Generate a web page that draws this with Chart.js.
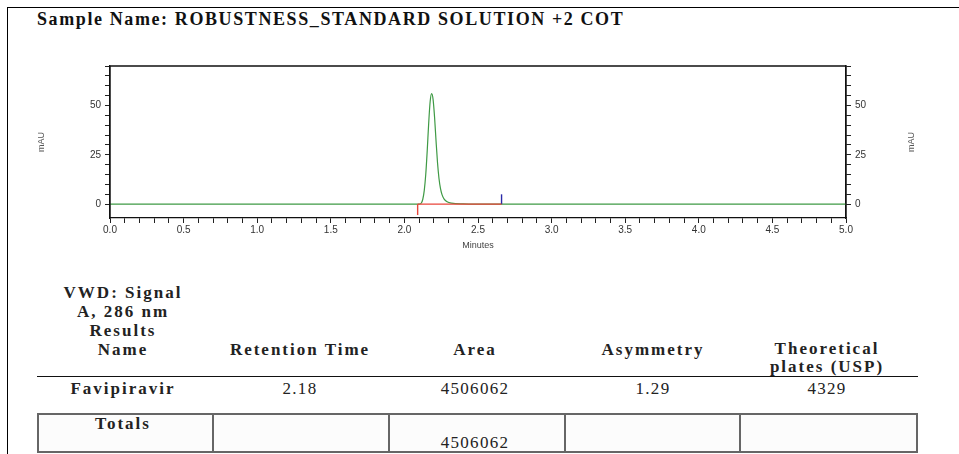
<!DOCTYPE html>
<html>
<head>
<meta charset="utf-8">
<script src="https://cdn.jsdelivr.net/npm/chart.js@4.4.0/dist/chart.umd.min.js"></script>
<style>
  body { margin: 0; background: #fff; }
  #page { position: relative; width: 959px; height: 454px; overflow: hidden; background: #fff; }
  #frame { position: absolute; left: 7px; top: 7px; width: 960px; height: 460px;
           border-left: 1.5px solid #000; border-top: 1.5px solid #000; }
  #title { position: absolute; left: 37px; top: 9px; font: bold 18px "Liberation Serif", serif;
           letter-spacing: 1.6px; color: #111; white-space: nowrap; }
  #chartBox { position: absolute; left: 0; top: 50px; width: 959px; height: 205px; }
  .t { position: absolute; font: bold 17px "Liberation Serif", serif; color: #222;
       text-align: center; white-space: nowrap; letter-spacing: 2px; line-height: 19px; }
  .v { font-weight: normal; letter-spacing: 1.3px; }
  #rule { position: absolute; left: 37px; top: 376px; width: 881px; height: 0; border-top: 1.5px solid #111; }
  #totals { position: absolute; left: 37px; top: 413px; border-collapse: collapse; }
  #totals td { border: 2px solid #666; height: 36px; padding: 0; background: #fcfcfc; }
</style>
</head>
<body>
<div id="page">
  <div id="frame"></div>
  <div id="title">Sample Name: ROBUSTNESS_STANDARD SOLUTION +2 COT</div>
  <div id="chartBox"><canvas id="chrom" width="959" height="205"></canvas></div>

  <div class="t" style="left:52px; top:283px; width:142px;">VWD: Signal<br>A, 286 nm<br>Results<br>Name</div>
  <div class="t" style="left:210px; top:340px; width:180px;">Retention Time</div>
  <div class="t" style="left:415px; top:340px; width:120px;">Area</div>
  <div class="t" style="left:578px; top:340px; width:150px;">Asymmetry</div>
  <div class="t" style="left:747px; top:340px; width:160px; line-height:18px;">Theoretical<br>plates (USP)</div>
  <div id="rule"></div>
  <div class="t" style="left:52px; top:379px; width:142px;">Favipiravir</div>
  <div class="t v" style="left:240px; top:379px; width:120px;">2.18</div>
  <div class="t v" style="left:415px; top:379px; width:120px;">4506062</div>
  <div class="t v" style="left:593px; top:379px; width:120px;">1.29</div>
  <div class="t v" style="left:767px; top:379px; width:120px;">4329</div>
  <table id="totals"><tr>
    <td style="width:173px"></td><td style="width:174px"></td><td style="width:174px"></td>
    <td style="width:173px"></td><td style="width:175px"></td>
  </tr></table>
  <div class="t" style="left:52px; top:414px; width:142px;">Totals</div>
  <div class="t v" style="left:415px; top:433px; width:120px;">4506062</div>
</div>

<script>
// chromatogram trace (minutes, mAU)
const traceTime = [0.0, 1.0, 2.0, 2.10, 2.115, 2.125, 2.135, 2.145, 2.155, 2.165, 2.175, 2.185,
                   2.195, 2.205, 2.215, 2.225, 2.235, 2.245, 2.255, 2.27, 2.29, 2.32, 2.40, 2.6, 5.0];
const traceMau  = [0.0, 0.0, 0.0, 0.0, 0.6, 2.5, 7, 15, 27, 41, 52, 56,
                   53, 44, 32, 21, 13, 8, 5, 2.6, 1.2, 0.5, 0.15, 0.0, 0.0];

// integration baseline and its start / end marks
const baseStart = 2.09;
const baseEnd = 2.66;
const startMark = [-5.5, 0];
const endMark = [0, 5];

const xTickLabels = ['0.0', '0.5', '1.0', '1.5', '2.0', '2.5', '3.0', '3.5', '4.0', '4.5', '5.0'];
const yTickLabels = ['0', '25', '50'];

const tickFont = { family: 'Liberation Sans, Arial, sans-serif', size: 10 };
const titleFont = { family: 'Liberation Sans, Arial, sans-serif', size: 9 };
const tickColor = '#333';

function pts(xs, ys) { return xs.map((x, i) => ({ x: x, y: ys[i] })); }

// keep only the 5-mAU / 0.1-min steps (drops the edge values min/max add)
function keepSteps(step) {
  return (scale) => {
    scale.ticks = scale.ticks.filter(t => Math.abs(Math.round(t.value / step) * step - t.value) < 1e-6);
  };
}

function yLabel(v) {
  const s = String(Math.round(v));
  return yTickLabels.includes(s) && Math.abs(v - Math.round(v)) < 1e-6 ? s : '';
}

function xLabel(v) {
  const s = v.toFixed(1);
  return Math.round(v * 10) % 5 === 0 && xTickLabels.includes(s) ? s : '';
}

// box round the plot, plus the right-hand unit label reading upward like the left one
const framePlugin = {
  id: 'frame',
  afterDraw(chart) {
    const a = chart.chartArea;
    const c = chart.ctx;
    c.save();
    c.strokeStyle = '#111';
    c.lineWidth = 1.3;
    c.beginPath();
    c.moveTo(a.left, a.bottom);
    c.lineTo(a.left, a.top);
    c.lineTo(a.right, a.top);
    c.lineTo(a.right, a.bottom);
    c.stroke();
    c.translate(912, (a.top + a.bottom) / 2);
    c.rotate(-Math.PI / 2);
    c.font = '9px Liberation Sans, Arial, sans-serif';
    c.fillStyle = '#555';
    c.textAlign = 'center';
    c.textBaseline = 'middle';
    c.fillText('mAU', 0, 0);
    c.restore();
  }
};

const ctx = document.getElementById('chrom').getContext('2d');
const chrom = new Chart(ctx, {
  type: 'line',
  data: {
    datasets: [
      {
        label: 'baseline',
        data: pts([baseStart, baseEnd], [0, 0]),
        borderColor: '#e8453a', borderWidth: 1.2, pointRadius: 0, order: 1
      },
      {
        label: 'start',
        data: pts([baseStart, baseStart], startMark),
        borderColor: '#e8453a', borderWidth: 1.4, pointRadius: 0, order: 1
      },
      {
        label: 'end',
        data: pts([baseEnd, baseEnd], endMark),
        borderColor: '#2a2aa8', borderWidth: 1.4, pointRadius: 0, order: 1
      },
      {
        label: 'VWD A 286 nm',
        data: pts(traceTime, traceMau),
        borderColor: '#3f9a45', borderWidth: 1.2, pointRadius: 0,
        cubicInterpolationMode: 'monotone', order: 2
      }
    ]
  },
  options: {
    responsive: false,
    animation: false,
    layout: { padding: { top: 16, left: 0, right: 0, bottom: 0 } },
    plugins: { legend: { display: false }, tooltip: { enabled: false } },
    scales: {
      x: {
        type: 'linear', min: 0, max: 5,
        afterBuildTicks: keepSteps(0.1),
        afterFit: (s) => { s.height = 37; },
        ticks: { stepSize: 0.1, autoSkip: false, maxRotation: 0, padding: 1,
                 font: tickFont, color: tickColor, callback: xLabel },
        grid: { drawOnChartArea: false, tickLength: 5, tickColor: '#222', tickWidth: 1 },
        border: { color: '#111', width: 1.3 },
        title: { display: true, text: 'Minutes', color: '#444', font: titleFont, padding: { top: 0 } }
      },
      y: {
        type: 'linear', position: 'left', min: -7, max: 70,
        afterBuildTicks: keepSteps(5),
        afterFit: (s) => { s.width = 110; },
        ticks: { stepSize: 5, autoSkip: false, padding: 4,
                 font: tickFont, color: tickColor, callback: yLabel },
        grid: { drawOnChartArea: false, tickLength: 5, tickColor: '#222', tickWidth: 1 },
        border: { color: '#111', width: 1.3 },
        title: { display: true, text: 'mAU', color: '#555', font: titleFont, padding: { top: 36 } }
      },
      y2: {
        type: 'linear', position: 'right', min: -7, max: 70,
        afterBuildTicks: keepSteps(5),
        afterFit: (s) => { s.width = 113; },
        ticks: { stepSize: 5, autoSkip: false, padding: 4,
                 font: tickFont, color: tickColor, callback: yLabel },
        grid: { drawOnChartArea: false, tickLength: 5, tickColor: '#222', tickWidth: 1 },
        border: { color: '#111', width: 1.3 }
      }
    }
  },
  plugins: [framePlugin]
});
</script>
</body>
</html>
